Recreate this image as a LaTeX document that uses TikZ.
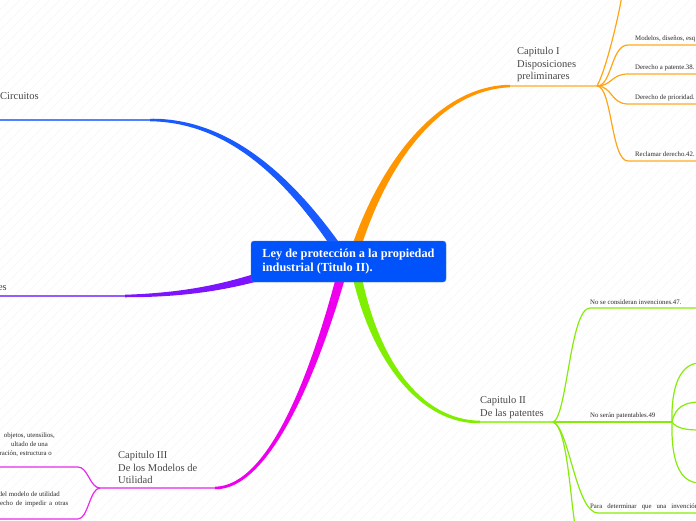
\documentclass[tikz,border=0pt]{standalone}
\usepackage{fontspec}
\setmainfont{Liberation Serif}
\usetikzlibrary{calc}

\definecolor{rootblue}{RGB}{0,82,250}
\definecolor{brblue}{RGB}{25,90,255}
\definecolor{brpurple}{RGB}{125,20,255}
\definecolor{brmagenta}{RGB}{238,0,238}
\definecolor{brorange}{RGB}{255,150,0}
\definecolor{brgreen}{RGB}{128,238,0}
\definecolor{oraD}{RGB}{255,165,20}
\definecolor{oraL}{RGB}{255,200,110}
\definecolor{grn}{RGB}{135,235,10}
\definecolor{grnL}{RGB}{160,245,60}
\definecolor{mag}{RGB}{235,40,235}
\definecolor{magL}{RGB}{240,110,240}
\definecolor{bluL}{RGB}{80,130,255}
\definecolor{purL}{RGB}{150,90,255}
\definecolor{txtgray}{RGB}{70,70,70}
\definecolor{txtdark}{RGB}{40,40,40}

% thick branch that narrows from #6 (at #2) to #7 (at #5)
\newcommand{\taper}[7]{%
  \pgfmathsetmacro\tpa{#6/2}%
  \pgfmathsetmacro\tpb{(2*#6+#7)/6}%
  \pgfmathsetmacro\tpc{(#6+2*#7)/6}%
  \pgfmathsetmacro\tpd{#7/2}%
  \fill[#1] ($(#2)!\tpa pt!90:(#3)$)
    .. controls ($(#3)!\tpb pt!-90:(#2)$) and ($(#4)!\tpc pt!90:(#5)$)
    .. ($(#5)!\tpd pt!-90:(#4)$)
    -- ($(#5)!\tpd pt!90:(#4)$)
    .. controls ($(#4)!\tpc pt!-90:(#5)$) and ($(#3)!\tpb pt!90:(#2)$)
    .. ($(#2)!\tpa pt!-90:(#3)$) -- cycle;}

\begin{document}
\begin{tikzpicture}[x=1pt,y=-1pt,
    chapter/.style={font=\fontsize{10.5}{12.2}\selectfont, text=txtgray,
      align=left, inner sep=0pt, anchor=north west},
    leaf/.style={font=\fontsize{6.8}{8}\selectfont, text=txtdark,
      inner sep=0pt, anchor=base west},
    root/.style={draw=rootblue!80!white, fill=rootblue, rounded corners=3pt,
      minimum width=195pt, minimum height=41pt, align=left, inner sep=0pt,
      text=white, font=\fontsize{12.3}{13.8}\selectfont\bfseries},
    twig/.style={line width=1.2pt},
    stem/.style={line width=2.2pt}
]
\useasboundingbox (0,0) rectangle (696,520);
\clip (0,0) rectangle (696,520);

% faint stripes
\foreach \s in {-520,-510,...,700}
  \draw[black!4, line width=0.5pt] (\s,520) -- (\s+520,0);

\coordinate (hubI)   at (597,86);
\coordinate (hubII)  at (553,422);
\coordinate (hubIIb) at (672,422);
\coordinate (hubIII) at (100,488);

% main branches
\taper{brblue}{336,246}{290,180}{230,120}{150,120}{9}{2.5}
\taper{brpurple}{265,275}{225,287}{185,295}{125,296}{8.5}{2.5}
\taper{brorange}{356,248}{385,160}{440,88}{510,86}{9}{2.5}
\taper{brgreen}{357,276}{375,360}{420,422}{480,422}{9}{2.5}
\taper{brmagenta}{341,276}{315,370}{270,488}{215,488}{9}{2.5}

\draw[stem, bluL] (150,120) -- (-5,120);
\draw[stem, purL] (125,296) -- (-5,296);
\draw[stem, oraL] (510,86) -- (hubI);
\draw[stem, grnL] (480,422) -- (hubII);
\draw[stem, magL] (215,488) -- (hubIII);

% Capitulo I
\draw[twig, oraD] (hubI) .. controls +(9,-16) and +(-3,20) .. (622,-5);
\foreach \yy in {45,74,104,161}
  \draw[twig, oraD] (hubI) .. controls +(15,0) and +(-17,0) .. (628,\yy);
\foreach \yy in {45,74,104,161}
  \draw[oraL, line width=1.6pt] (628,\yy) -- (700,\yy);

% Capitulo II
\draw[twig, grn] (hubII) .. controls +(14,-4) and +(-20,0) .. (590,308) -- (700,308);
\draw[twig, grn] (hubII) -- (hubIIb);
\draw[twig, grn] (hubII) .. controls +(16,5) and +(-22,0) .. (598,513) -- (700,513);
\draw[twig, grn] (hubII) .. controls +(14,5) and +(-5,-30) .. (575,525);
\draw[twig, grn] (hubIIb) .. controls +(-1,-35) and +(-20,0) .. (700,363);
\draw[twig, grn] (hubIIb) .. controls +(3,-15) and +(-15,0) .. (700,402);
\draw[twig, grn] (hubIIb) .. controls +(5,7) and +(-12,0) .. (700,430);
\draw[twig, grn] (hubIIb) .. controls +(-1,40) and +(-20,0) .. (700,483);

% Capitulo III
\draw[twig, mag] (hubIII) .. controls +(-10,0) and +(10,0) .. (78,467) -- (-5,467);
\draw[twig, mag] (hubIII) .. controls +(-10,0) and +(10,0) .. (78,519) -- (-5,519);

% texts
\node[root] (root) at (348.5,261.5)
  {Ley de protección a la propiedad\\industrial (Titulo II).};

\node[chapter] (capI)   at (517,47.5)  {Capitulo I\\Disposiciones\\preliminares};
\node[chapter] (capII)  at (480,396.5) {Capitulo II\\De las patentes};
\node[chapter] (capIII) at (118,451.5) {Capitulo III\\De los Modelos de\\Utilidad};
\node[chapter, anchor=base west] (circ) at (0,99) {Circuitos};
\node[chapter, anchor=base east] (es)   at (7,290) {es};

\node[leaf] (modelos)   at (635,40)    {Modelos, diseños, esq};
\node[leaf] (patente)   at (635,69)    {Derecho a patente.38.};
\node[leaf] (prioridad) at (635,99)    {Derecho de prioridad.};
\node[leaf] (reclamar)  at (635,156.5) {Reclamar derecho.42.};
\node[leaf] (noinv)     at (590,304.5) {No se consideran invenciones.47.};
\node[leaf] (nopat)     at (590,417.5) {No serán patentables.49};
\node[leaf] (para)      at (590,508.5)
  {\makebox[108pt][s]{Para determinar que una invención}};

\node[leaf, anchor=base east] (objetos)   at (55,437.5) {objetos, utensilios,};
\node[leaf, anchor=base east] (ultado)    at (48,446.5) {ultado de una};
\node[leaf, anchor=base east] (guracion)  at (52,455)   {guración, estructura o};
\node[leaf, anchor=base east] (delmodelo) at (60,496.5) {del modelo de utilidad};
\node[leaf] (echo) at (0,505.5) {\makebox[68pt][s]{echo de impedir a otras}};
\end{tikzpicture}
\end{document}
